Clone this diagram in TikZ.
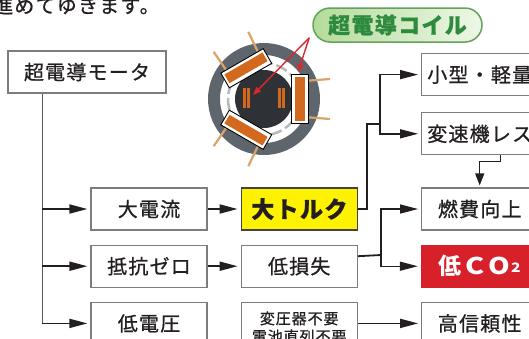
\documentclass[tikz,border=0pt]{standalone}
\usepackage{fontspec}
\setmainfont{Noto Sans CJK JP}
\newfontfamily\boxfont[LetterSpace=6,FakeBold=0.8]{Noto Sans CJK JP}
\usetikzlibrary{arrows.meta,positioning}
\definecolor{mtInk}{HTML}{231F20}
\definecolor{mtFrame}{HTML}{7D7D7D}
\definecolor{mtYellow}{HTML}{FFF200}
\definecolor{mtRed}{HTML}{D7202A}
\definecolor{mtGreen}{HTML}{2E8B3E}
\definecolor{mtGreenEdge}{HTML}{62A25A}
\definecolor{mtGreenDeep}{HTML}{B4DB9A}
\definecolor{mtGreenPale}{HTML}{EEF7E7}
\definecolor{mtRing}{HTML}{5E656C}
\definecolor{mtRotor}{HTML}{2E3236}
\definecolor{mtCopper}{HTML}{D2691E}
\definecolor{mtLead}{HTML}{D9A46A}
\definecolor{mtArrowRed}{HTML}{E0262B}
\tikzset{
  % plain framed box
  cbox/.style={rectangle,draw=mtFrame,line width=1.2pt,fill=white,
    minimum width=116pt,minimum height=42pt,inner sep=0pt,
    font=\boxfont\fontsize{20}{22}\selectfont,text=mtInk},
  % yellow highlight box
  hibox/.style={cbox,fill=mtYellow,draw=mtInk!85,line width=1.5pt,
    font=\boxfont\bfseries\fontsize{23}{24}\selectfont},
  % red result box
  redbox/.style={cbox,fill=mtRed,draw=mtRed,text=white,
    font=\bfseries\fontsize{23}{24}\selectfont},
  % green label pill
  tagpill/.style={rectangle,rounded corners=17pt,draw=mtGreenEdge,
    line width=1.5pt,left color=mtGreenDeep,right color=mtGreenPale,
    minimum width=169pt,minimum height=34pt,inner sep=0pt,
    font=\boxfont\bfseries\fontsize{22}{24}\selectfont,text=mtGreen},
  % Arrows
  arr/.style={-{Triangle[length=18pt,width=9pt]},line width=1.8pt,
    draw=mtInk,shorten >=3pt},
  droparr/.style={-{Triangle[length=12pt,width=9pt]},line width=1.3pt,
    draw=mtInk,shorten >=2pt},
  coilarr/.style={-{Triangle[length=8pt,width=6pt]},line width=1.4pt,
    draw=mtArrowRed},
  conn/.style={line width=1.2pt,draw=mtInk},
  trunkline/.style={line width=1.4pt,draw=mtInk!75},
}
\begin{document}
\begin{tikzpicture}[x=1pt,y=-1pt,node distance=14pt and 33pt]
  \useasboundingbox (0,0) rectangle (529,338);

  \node[anchor=base west,inner sep=0pt,text=mtInk,
    font=\boxfont\fontsize{20}{20}\selectfont] (lead) at (-7,13)
    {進めてゆきます。};

  \node[cbox,minimum width=158pt] (motor) at (87,72) {超電導モータ};

  % causes
  \node[cbox] (current) at (149,209) {大電流};
  \node[cbox,below=of current] (zerores) {抵抗ゼロ};
  \node[cbox,below=of zerores] (lowvolt) {低電圧};

  % effects
  \node[hibox,right=of current] (torque) {大トルク};
  \node[cbox,right=of zerores] (lowloss) {低損失};
  \node[cbox,minimum height=50pt,anchor=north west,
    font=\boxfont\fontsize{15}{18}\selectfont,align=center] (notrans)
    at ([xshift=33pt]lowvolt.north east) {変圧器不要\\電池直列不要};

  % benefits
  \node[cbox,right=63pt of torque] (fuel) {燃費向上};
  \node[redbox,right=63pt of lowloss] (lowco)
    {低\hspace{4pt}\scalebox{1.25}[1]{C}\hspace{4pt}\scalebox{1.2}[1]{O}\hspace{1pt}\raisebox{2pt}{\fontsize{13}{13}\selectfont\scalebox{1.2}[1]{2}}\hspace{6pt}};
  \node[cbox] (reliab) at (fuel |- lowvolt) {高信頼性};
  \node[cbox,above=32pt of fuel] (gearless) {変速機レス};
  \node[cbox,above=16pt of gearless] (compact) {小型・軽量};

  \node[tagpill] (tag) at (397.5,25) {超電導コイル};

  % motor cross-section
  \begin{scope}[shift={(264,99)}]
    \fill[mtRing,even odd rule] (0,0) circle[radius=56pt]
      (0,0) circle[radius=44pt];
    \draw[mtRing!45,line width=2.5pt,dash pattern=on 12pt off 4pt]
      (0,0) circle[radius=36pt];
    \fill[mtRotor] (0,0) circle[radius=29pt];
    \foreach \x in {-21,-17,14,18}
      \fill[mtCopper] (\x,-11) rectangle ++(3,20);
    \foreach \a in {0,120,-120}{
      \begin{scope}[rotate=\a]
        \draw[mtLead,line width=2.2pt] (40,-18) -- (66,-20)
          (40,18) -- (66,20);
        \fill[white] (27,-24.5) rectangle (44,24.5);
        \fill[mtCopper] (31,-22) rectangle (41,22);
        \draw[black,line width=0.9pt] (27,-24.5) rectangle (44,24.5);
      \end{scope}
    }
    \coordinate (rotorpin) at (-11,-4);
    \coordinate (statorpin) at (34,-27);
  \end{scope}

  \coordinate (tagfoot) at ([xshift=-3pt,yshift=5pt]tag.south west);
  \draw[coilarr] (tagfoot) -- (rotorpin);
  \draw[coilarr] (tagfoot) -- (statorpin);

  % trunk from the motor
  \coordinate (trunk) at ([xshift=35pt]motor.south west);
  \draw[trunkline] (trunk) -- (trunk |- lowvolt.west);
  \foreach \n in {current,zerores,lowvolt}
    \draw[arr] (trunk |- \n.west) -- (\n.west);

  \draw[arr] (current.east) -- (torque.west);
  \draw[arr] (zerores.east) -- (lowloss.west);
  \draw[arr] ([yshift=4pt]notrans.east) -- (reliab.west);

  % torque branches
  \coordinate (bendA) at (367,124);
  \coordinate (forkA) at (380,124);
  \draw[conn] (torque.east) -| (bendA) -- (forkA);
  \draw[arr,line width=1.4pt] (forkA) |- (compact.west);
  \draw[arr,line width=1.4pt] (forkA) |- (gearless.west);
  \draw[droparr] ([xshift=21pt]gearless.south) -- ++(0,6) -| (fuel.north);

  % loss branches
  \coordinate (forkB) at (381,255);
  \draw[conn,line width=1.8pt] ([yshift=10pt]lowloss.east) -- (forkB);
  \draw[arr,line width=1.4pt] (forkB) |- (fuel.west);
  \draw[arr,line width=1.4pt] (forkB) |- (lowco.west);
\end{tikzpicture}
\end{document}
